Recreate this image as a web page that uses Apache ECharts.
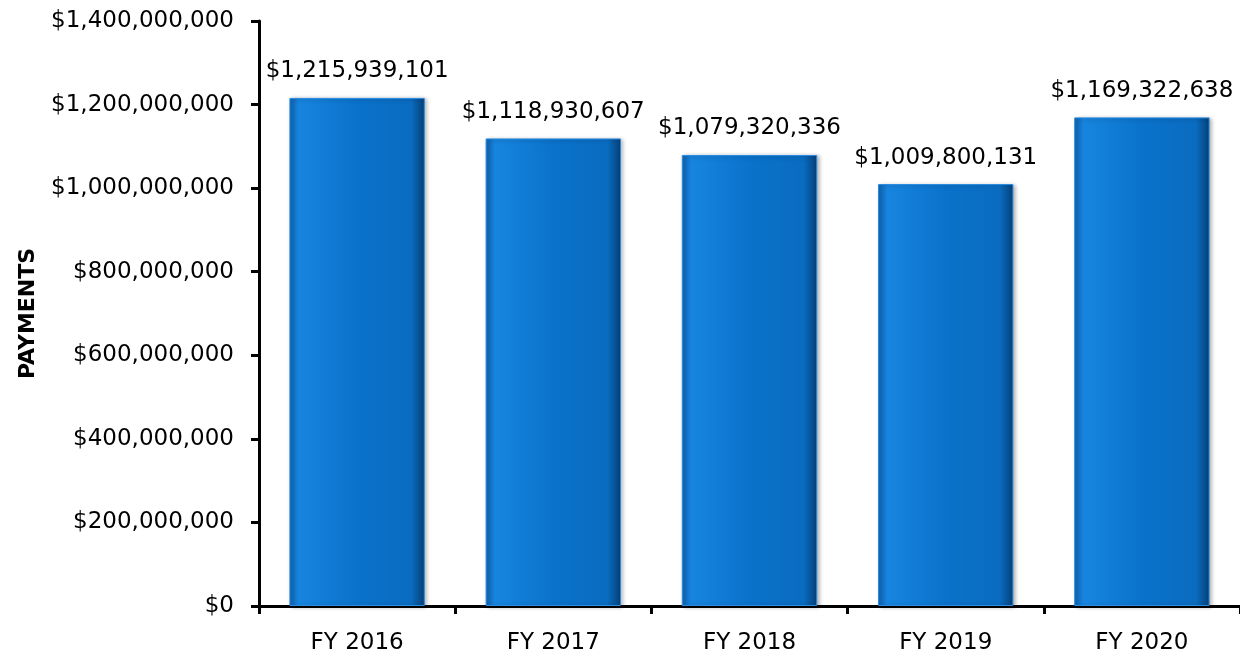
<!DOCTYPE html>
<html>
<head>
<meta charset="utf-8">
<script src="https://cdn.jsdelivr.net/npm/echarts@6/dist/echarts.min.js"></script>
<style>html,body{margin:0;padding:0;background:#fff}#c{width:1240px;height:656px}</style>
</head>
<body>
<div id="c"></div>
<script>
const categories = ['FY 2016', 'FY 2017', 'FY 2018', 'FY 2019', 'FY 2020'];
const payments = [1215939101, 1118930607, 1079320336, 1009800131, 1169322638];
const yTicks = [0, 200000000, 400000000, 600000000, 800000000, 1000000000, 1200000000, 1400000000];

function money(v) { return '$' + Number(v).toLocaleString('en-US'); }

const FONT = 'DejaVu Sans';
const chart = echarts.init(document.getElementById('c'), null, { renderer: 'canvas' });
const barColor = {
  type: 'linear', x: 0, y: 0, x2: 1, y2: 0,
  colorStops: [
    { offset: 0, color: '#0f62b0' },
    { offset: 0.07, color: '#1785df' },
    { offset: 0.5, color: '#0a72cb' },
    { offset: 0.9, color: '#0a6cc0' },
    { offset: 1, color: '#053f77' }
  ]
};
chart.setOption({
  animation: false,
  grid: { left: 259, right: 0, top: 21, bottom: 50, containLabel: false },
  xAxis: {
    type: 'category',
    data: categories,
    axisLine: { lineStyle: { color: '#000', width: 3 } },
    axisTick: { show: true, length: 8, lineStyle: { color: '#000', width: 3 } },
    axisLabel: { color: '#000', fontFamily: FONT, fontSize: 23, margin: 26 }
  },
  yAxis: {
    type: 'value',
    min: yTicks[0], max: yTicks[yTicks.length - 1], interval: 200000000,
    name: 'PAYMENTS',
    nameLocation: 'middle',
    nameRotate: 90,
    nameGap: 220,
    nameTextStyle: { color: '#000', fontFamily: FONT, fontSize: 22, fontWeight: 'bold' },
    axisLine: { show: true, lineStyle: { color: '#000', width: 3 } },
    axisTick: { show: true, length: 8, lineStyle: { color: '#000', width: 3 } },
    splitLine: { show: false },
    axisLabel: { color: '#000', fontFamily: FONT, fontSize: 23, margin: 25, formatter: money }
  },
  series: [{
    type: 'bar',
    data: payments,
    barCategoryGap: '31%',
    itemStyle: { color: barColor, borderColor: '#2a8be0', borderWidth: 1,
      shadowColor: 'rgba(0,0,0,0.3)', shadowBlur: 4, shadowOffsetX: 2, shadowOffsetY: 1 },
    label: { show: true, position: 'top', distance: 15, color: '#000', fontFamily: FONT, fontSize: 23, formatter: p => money(p.value) }
  }]
});
</script>
</body>
</html>
